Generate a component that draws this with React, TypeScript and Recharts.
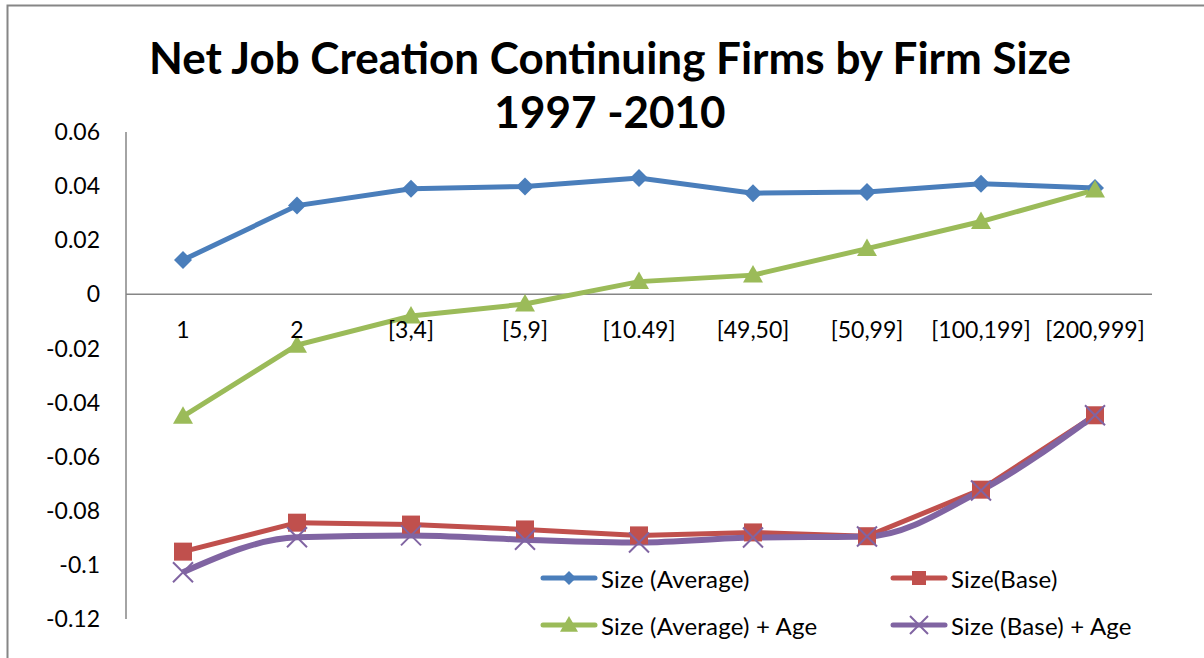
import React from "react";
import {
  LineChart,
  Line,
  XAxis,
  YAxis,
  ReferenceLine,
  Legend,
} from "recharts";

const categories = [
  "1",
  "2",
  "[3,4]",
  "[5,9]",
  "[10.49]",
  "[49,50]",
  "[50,99]",
  "[100,199]",
  "[200,999]",
];

const sizeAverage = [0.0127, 0.0328, 0.039, 0.0399, 0.043, 0.0374, 0.0378, 0.0409, 0.0393];
const sizeBase = [-0.0951, -0.0844, -0.0851, -0.0869, -0.0891, -0.088, -0.0894, -0.0722, -0.0447];
const sizeAverageAge = [-0.0451, -0.0188, -0.008, -0.0036, 0.0047, 0.0071, 0.0169, 0.0269, 0.0386];
const sizeBaseAge = [-0.1027, -0.0898, -0.0891, -0.0907, -0.0917, -0.0899, -0.0895, -0.0725, -0.0447];

const yTicks = [0.06, 0.04, 0.02, 0, -0.02, -0.04, -0.06, -0.08, -0.1, -0.12];
const Y_MAX = 0.06;
const Y_MIN = -0.12;

const titleLines = ["Net Job Creation Continuing Firms by Firm Size", "1997 -2010"];

const BLUE = "#4A7EBB";
const RED = "#C0504D";
const GREEN = "#9BBB59";
const PURPLE = "#8064A2";
const AXIS = "#868686";
const FONT = "Lato, 'Open Sans', sans-serif";

const data = categories.map((c, i) => ({
  cat: c,
  avg: sizeAverage[i],
  base: sizeBase[i],
  avgAge: sizeAverageAge[i],
  baseAge: sizeBaseAge[i],
}));

const W = 1204;
const H = 658;
const MARGIN = { top: 132, right: 52, bottom: 38, left: 0 };
const PLOT_H = H - MARGIN.top - MARGIN.bottom - 1;

// marker shapes
const Diamond = ({ cx, cy, color, s = 9 }: any) =>
  cx == null ? null : (
    <path d={`M${cx},${cy - s}L${cx + s},${cy}L${cx},${cy + s}L${cx - s},${cy}Z`} fill={color} />
  );

const Square = ({ cx, cy, color, s = 9 }: any) =>
  cx == null ? null : <rect x={cx - s} y={cy - s} width={s * 2} height={s * 2} fill={color} />;

const Triangle = ({ cx, cy, color, s = 10 }: any) =>
  cx == null ? null : (
    <path d={`M${cx},${cy - s}L${cx + s},${cy + s * 0.75}L${cx - s},${cy + s * 0.75}Z`} fill={color} />
  );

const Cross = ({ cx, cy, color, s = 9 }: any) =>
  cx == null ? null : (
    <path
      d={`M${cx - s},${cy - s}L${cx + s},${cy + s}M${cx - s},${cy + s}L${cx + s},${cy - s}`}
      stroke={color}
      strokeWidth={2}
      fill="none"
    />
  );

const markers: Record<string, any> = {
  avg: Diamond,
  base: Square,
  avgAge: Triangle,
  baseAge: Cross,
};

const legendItems = [
  { key: "avg", label: "Size (Average)", color: BLUE },
  { key: "base", label: "Size(Base)", color: RED },
  { key: "avgAge", label: "Size (Average) + Age", color: GREEN },
  { key: "baseAge", label: "Size (Base) + Age", color: PURPLE },
];

const renderLegend = () => (
  <div
    style={{
      display: "grid",
      gridTemplateColumns: "350px 300px",
      rowGap: 21,
      fontFamily: FONT,
      fontSize: 24,
      letterSpacing: 0.2,
      color: "#000",
    }}
  >
    {legendItems.map((it) => {
      const M = markers[it.key];
      return (
        <div key={it.key} style={{ display: "flex", alignItems: "center", height: 26 }}>
          <svg width={58} height={26} style={{ marginRight: 3 }}>
            <line x1={3} y1={13} x2={55} y2={13} stroke={it.color} strokeWidth={5} strokeLinecap="round" />
            <M cx={29} cy={13} color={it.color} s={it.key === "avgAge" ? 9 : it.key === "baseAge" ? 9 : 7} />
          </svg>
          <span>{it.label}</span>
        </div>
      );
    })}
  </div>
);

const XTick = ({ x, y, payload }: any) => {
  // move labels up from the plot bottom to just under the zero line
  const zeroY = y - (PLOT_H * (0 - Y_MIN)) / (Y_MAX - Y_MIN);
  return (
    <text x={x} y={zeroY + 35} textAnchor="middle" dominantBaseline="central" fill="#000" fontSize={23} fontFamily={FONT}>
      {payload.value}
    </text>
  );
};

const fmt = (v: number) => Number(v.toFixed(2)).toString();

export default function App() {
  return (
    <div style={{ position: "fixed", left: 0, top: 0, width: W, height: H, overflow: "hidden", background: "#fff" }}>
      <div
        style={{
          position: "absolute",
          left: 0,
          width: 1220,
          top: 30,
          textAlign: "center",
          fontFamily: FONT,
          fontWeight: 700,
          fontSize: 44,
          lineHeight: "54px",
          color: "#000",
        }}
      >
        {titleLines.map((t) => (
          <div key={t}>{t}</div>
        ))}
      </div>
      <div style={{ position: "absolute", left: 0, top: 0 }}>
        <LineChart width={W} height={H} data={data} margin={MARGIN}>
          <XAxis
            dataKey="cat"
            height={1}
            padding={{ left: 57, right: 57 }}
            axisLine={false}
            tickLine={false}
            tickSize={0}
            tickMargin={0}
            interval={0}
            tick={<XTick />}
          />
          <YAxis
            width={126}
            domain={[Y_MIN, Y_MAX]}
            ticks={yTicks}
            interval={0}
            tickFormatter={fmt}
            axisLine={{ stroke: AXIS, strokeWidth: 1.5 }}
            tickLine={false}
            tickSize={0}
            tickMargin={26}
            tick={{ fill: "#000", fontSize: 23, fontFamily: FONT }}
          />
          <ReferenceLine y={0} stroke={AXIS} strokeWidth={1.5} />
          <Line
            type="linear"
            dataKey="avg"
            stroke={BLUE}
            strokeWidth={5}
            dot={<Diamond color={BLUE} />}
            isAnimationActive={false}
          />
          <Line
            type="linear"
            dataKey="avgAge"
            stroke={GREEN}
            strokeWidth={5}
            dot={<Triangle color={GREEN} />}
            isAnimationActive={false}
          />
          <Line
            type="linear"
            dataKey="base"
            stroke={RED}
            strokeWidth={5}
            dot={<Square color={RED} />}
            isAnimationActive={false}
          />
          <Line
            type="monotone"
            dataKey="baseAge"
            stroke={PURPLE}
            strokeWidth={6}
            dot={<Cross color={PURPLE} s={10} />}
            isAnimationActive={false}
          />
          <Legend
            layout="horizontal"
            verticalAlign="middle"
            content={renderLegend}
            wrapperStyle={{ position: "absolute", left: 540, top: 565, width: 660 }}
          />
        </LineChart>
      </div>
      {/* chart frame: only its top and left edges fall inside the picture */}
      <svg
        width={W}
        height={H}
        style={{ position: "absolute", left: 0, top: 0, pointerEvents: "none" }}
      >
        <path d={`M7.5,${H}L7.5,5.5L${W},5.5`} fill="none" stroke={AXIS} strokeWidth={2} />
      </svg>
    </div>
  );
}
